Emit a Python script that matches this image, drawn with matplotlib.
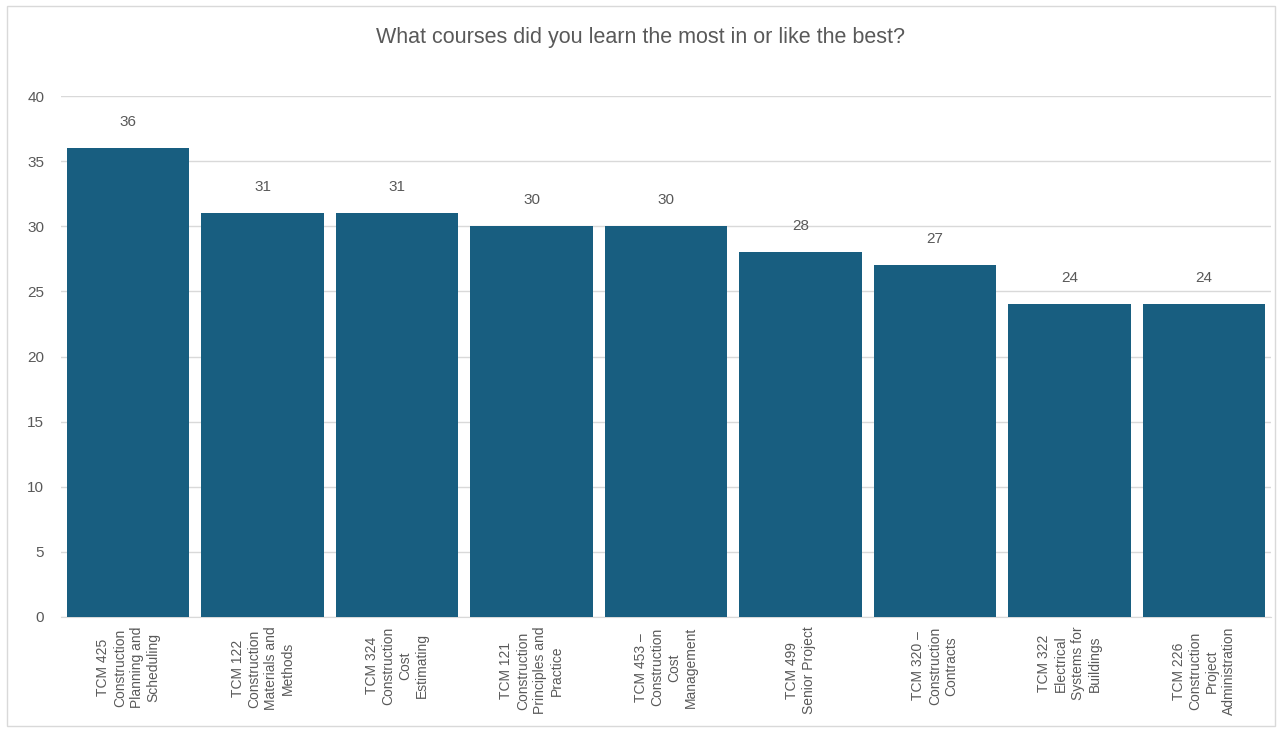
import matplotlib.pyplot as plt
from matplotlib.patches import Rectangle
from matplotlib import font_manager

courses = [
    "TCM 425\nConstruction\nPlanning and\nScheduling",
    "TCM 122\nConstruction\nMaterials and\nMethods",
    "TCM 324\nConstruction\nCost\nEstimating",
    "TCM 121\nConstruction\nPrinciples and\nPractice",
    "TCM 453 \u2013\nConstruction\nCost\nManagement",
    "TCM 499\nSenior Project",
    "TCM 320 \u2013\nConstruction\nContracts",
    "TCM 322\nElectrical\nSystems for\nBuildings",
    "TCM 226\nConstruction\nProject\nAdministration",
]
votes = [36, 31, 31, 30, 30, 28, 27, 24, 24]
yticks = [0, 5, 10, 15, 20, 25, 30, 35, 40]

names = {f.name for f in font_manager.fontManager.ttflist}
family = "Liberation Sans Narrow" if "Liberation Sans Narrow" in names else "Liberation Sans"
plt.rcParams['font.family'] = [family, 'DejaVu Sans']

text_color = "#595959"
bar_color = "#185E80"

fig = plt.figure(figsize=(12.81, 7.30), dpi=100)
ax = fig.add_axes([61 / 1281, 1 - 617 / 730, 1210 / 1281, 521 / 730])

x = list(range(len(courses)))
bars = ax.bar(x, votes, width=0.91, color=bar_color, zorder=3)
for xi, v in zip(x, votes):
    ax.annotate(str(v), (xi, v), xytext=(0, 14), textcoords="offset points",
                ha="center", va="bottom", fontsize=11, color=text_color)

ax.set_xlim(-0.5, len(courses) - 0.5)
ax.set_ylim(0, 40)
ax.set_yticks(yticks)
ax.yaxis.grid(True, color="#D9D9D9", linewidth=1, zorder=0)
ax.tick_params(axis="both", length=0, colors=text_color, labelsize=11)
ax.tick_params(axis="y", pad=12)
ax.tick_params(axis="x", pad=7)
ax.set_xticks(x)
ax.set_xticklabels(courses, rotation=90, ha="center", va="top",
                   multialignment="center", fontsize=10, color=text_color,
                   linespacing=1.25)
for s in ["top", "right", "left"]:
    ax.spines[s].set_visible(False)
ax.spines["bottom"].set_color("#D9D9D9")

fig.text(0.5, 1 - 37 / 730, "What courses did you learn the most in or like the best?",
         ha="center", va="center", fontsize=15.5, color=text_color)

fig.patches.append(Rectangle((7 / 1281, 4 / 730), 1268 / 1281, 720 / 730,
                             transform=fig.transFigure, fill=False,
                             edgecolor="#D9D9D9", linewidth=1))

fig.savefig("out.png", dpi=100)
